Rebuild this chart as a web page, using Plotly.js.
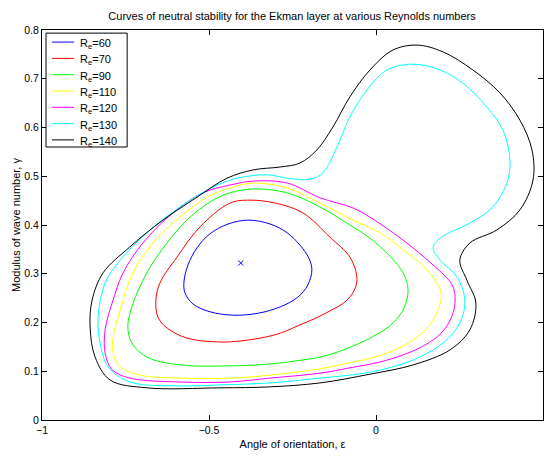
<!DOCTYPE html>
<html>
<head>
<meta charset="utf-8">
<script src="https://cdn.plot.ly/plotly-3.0.1.min.js"></script>
<style>html,body{margin:0;padding:0;background:#fff;}#chart{width:549px;height:458px;}</style>
</head>
<body>
<div id="chart"></div>
<script>
// Reynolds numbers (legend labels)
const reynolds = [60, 70, 90, 110, 120, 130, 140];
const colors = ['#0000ff', '#ff0000', '#00ff00', '#ffff00', '#ff00ff', '#00ffff', '#000000'];

// Re = 60
const eps60 = [-0.383,-0.317,-0.266,-0.228,-0.201,-0.192,-0.204,-0.234,-0.287,-0.353,-0.428,-0.497,-0.548,-0.572,-0.575,-0.563,-0.536,-0.497,-0.443,-0.383];
const gam60 = [0.410,0.402,0.384,0.359,0.332,0.308,0.277,0.252,0.232,0.219,0.215,0.222,0.238,0.261,0.283,0.318,0.353,0.382,0.402,0.410];

// Re = 70
const eps70 = [-0.377,-0.302,-0.219,-0.138,-0.078,-0.057,-0.066,-0.093,-0.132,-0.174,-0.228,-0.287,-0.347,-0.407,-0.467,-0.566,-0.626,-0.653,-0.659,-0.647,-0.596,-0.527,-0.437,-0.377];
const gam70 = [0.451,0.445,0.425,0.375,0.334,0.291,0.265,0.242,0.226,0.211,0.195,0.178,0.168,0.162,0.160,0.168,0.189,0.211,0.246,0.281,0.334,0.396,0.445,0.451];

// Re = 90
const eps90 = [-0.437,-0.368,-0.266,-0.168,-0.069,-0.018,0.042,0.081,0.096,0.084,0.051,0.006,-0.048,-0.108,-0.168,-0.243,-0.317,-0.437,-0.587,-0.686,-0.731,-0.743,-0.731,-0.686,-0.626,-0.557,-0.488,-0.437];
const gam90 = [0.466,0.474,0.466,0.437,0.396,0.373,0.336,0.302,0.267,0.230,0.199,0.177,0.158,0.141,0.129,0.121,0.115,0.111,0.113,0.129,0.158,0.191,0.232,0.302,0.363,0.416,0.451,0.466];

// Re = 110
const eps110 = [-0.437,-0.368,-0.266,-0.168,-0.069,0.012,0.081,0.153,0.195,0.186,0.156,0.111,0.057,-0.003,-0.069,-0.168,-0.317,-0.437,-0.587,-0.707,-0.766,-0.787,-0.787,-0.766,-0.728,-0.668,-0.587,-0.506,-0.437];
const gam110 = [0.476,0.486,0.476,0.445,0.410,0.384,0.349,0.308,0.261,0.226,0.191,0.164,0.144,0.129,0.119,0.105,0.092,0.086,0.086,0.092,0.109,0.137,0.170,0.226,0.302,0.363,0.416,0.457,0.476];

// Re = 120
const eps120 = [-0.437,-0.368,-0.266,-0.168,-0.069,-0.018,0.081,0.171,0.228,0.237,0.225,0.195,0.147,0.087,0.012,-0.078,-0.168,-0.317,-0.437,-0.587,-0.737,-0.790,-0.811,-0.811,-0.790,-0.757,-0.698,-0.608,-0.518,-0.437];
const gam120 = [0.482,0.490,0.486,0.456,0.435,0.416,0.369,0.318,0.277,0.246,0.209,0.178,0.154,0.135,0.119,0.107,0.096,0.086,0.078,0.078,0.086,0.103,0.137,0.185,0.240,0.302,0.363,0.425,0.466,0.482];

// Re = 130
const eps130 = [-0.832,-0.811,-0.766,-0.686,-0.587,-0.488,-0.416,-0.326,-0.266,-0.198,-0.159,-0.117,-0.078,-0.027,0.033,0.111,0.192,0.260,0.332,0.380,0.401,0.392,0.350,0.281,0.192,0.171,0.192,0.243,0.266,0.251,0.201,0.111,-0.018,-0.168,-0.317,-0.467,-0.587,-0.737,-0.802,-0.826,-0.832];
const gam130 = [0.211,0.281,0.328,0.384,0.437,0.478,0.496,0.503,0.496,0.494,0.507,0.560,0.622,0.677,0.718,0.730,0.718,0.691,0.642,0.595,0.533,0.486,0.437,0.404,0.373,0.353,0.328,0.293,0.246,0.199,0.158,0.123,0.098,0.086,0.076,0.072,0.070,0.078,0.109,0.158,0.211];

// Re = 140
const eps140 = [-0.856,-0.850,-0.817,-0.737,-0.638,-0.536,-0.446,-0.368,-0.287,-0.228,-0.177,-0.129,-0.078,-0.018,0.051,0.123,0.201,0.290,0.371,0.431,0.467,0.470,0.431,0.362,0.281,0.251,0.272,0.299,0.281,0.222,0.111,-0.018,-0.168,-0.317,-0.467,-0.686,-0.796,-0.841,-0.856];
const gam140 = [0.191,0.246,0.302,0.355,0.410,0.457,0.496,0.513,0.519,0.527,0.554,0.601,0.663,0.718,0.759,0.769,0.755,0.718,0.671,0.615,0.554,0.492,0.431,0.390,0.363,0.328,0.287,0.240,0.185,0.144,0.113,0.094,0.076,0.068,0.066,0.066,0.082,0.129,0.191];

// Critical point marker
const critEps = [-0.405];
const critGam = [0.322];

const xTicks = [-1, -0.5, 0, 0.5];
const xTickText = ['\u22121', '\u22120.5', '0', '0.5'];
const yTicks = [0, 0.1, 0.2, 0.3, 0.4, 0.5, 0.6, 0.7, 0.8];

const epsSets = [eps60, eps70, eps90, eps110, eps120, eps130, eps140];
const gamSets = [gam60, gam70, gam90, gam110, gam120, gam130, gam140];

const traces = reynolds.map((re, i) => ({
  x: epsSets[i], y: gamSets[i],
  type: 'scatter', mode: 'lines',
  name: 'R<sub>e</sub>=' + re,
  showlegend: false,
  line: {color: colors[i], width: 1, shape: 'spline', smoothing: 1}
}));
traces.push({
  x: critEps, y: critGam, type: 'scatter', mode: 'markers',
  marker: {symbol: 'x-thin-open', size: 5, color: '#0000ff', line: {width: 1, color: '#0000ff'}},
  showlegend: false
});

// MATLAB-style legend box (paper coordinates)
const legX0 = 0.008, legX1 = 0.170, legTop = 0.992, legBot = 0.700;
const rowTop = 0.969, rowStep = 0.0418;
const shapes = [{type: 'rect', xref: 'paper', yref: 'paper', x0: legX0, x1: legX1, y0: legBot, y1: legTop,
                 line: {color: '#000', width: 1}, fillcolor: '#fff', layer: 'above'}];
const annotations = [];
reynolds.forEach((re, i) => {
  const yy = rowTop - i * rowStep;
  shapes.push({type: 'line', xref: 'paper', yref: 'paper', x0: 0.020, x1: 0.064, y0: yy, y1: yy,
               line: {color: colors[i], width: 1}, layer: 'above'});
  annotations.push({xref: 'paper', yref: 'paper', x: 0.072, y: yy, xanchor: 'left', yanchor: 'middle',
                    yshift: -2, showarrow: false, text: 'R<sub>e</sub>=' + re, font: {size: 11, color: '#000'}});
});

const fontFam = 'Liberation Sans, Arial, Helvetica, sans-serif';
const layout = {
  width: 549, height: 458,
  margin: {l: 42, r: 6, t: 30, b: 38},
  paper_bgcolor: '#fff', plot_bgcolor: '#fff',
  font: {family: fontFam, size: 11, color: '#000'},
  title: {text: 'Curves of neutral stability for the Ekman layer at various Reynolds numbers',
          font: {family: fontFam, size: 11, color: '#000'}, x: 0.532, xanchor: 'center', y: 0.965, yanchor: 'middle'},
  xaxis: {range: [-1, 0.5], tickvals: xTicks, ticktext: xTickText, ticks: 'inside', ticklen: 5,
          tickcolor: '#000', showline: true, linecolor: '#000', linewidth: 1, mirror: 'ticks',
          showgrid: false, zeroline: false, tickfont: {size: 10.5},
          title: {text: 'Angle of orientation, \u03b5', font: {size: 11}, standoff: 5}},
  yaxis: {range: [0, 0.8], tickvals: yTicks, ticks: 'inside', ticklen: 5,
          tickcolor: '#000', showline: true, linecolor: '#000', linewidth: 1, mirror: 'ticks',
          showgrid: false, zeroline: false, tickfont: {size: 10.5},
          title: {text: 'Modulus of wave number, \u03b3', font: {size: 11}, standoff: 1}},
  shapes: shapes,
  annotations: annotations,
  showlegend: false
};

Plotly.newPlot('chart', traces, layout, {displayModeBar: false, staticPlot: true});
</script>
</body>
</html>
